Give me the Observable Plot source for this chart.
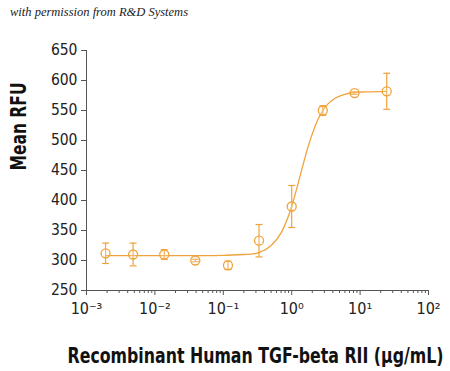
<!DOCTYPE html>
<html>
<head>
<meta charset="utf-8">
<script src="https://cdn.jsdelivr.net/npm/d3@7"></script>
<script src="https://cdn.jsdelivr.net/npm/@observablehq/plot@0.6"></script>
<style>
  html, body { margin: 0; padding: 0; background: #fff; }
  #wrap { position: relative; width: 450px; height: 371px; }
  #credit { position: absolute; left: 10px; top: 5px; font-family: "Liberation Serif", "DejaVu Serif", serif; font-style: italic; font-size: 12.5px; color: #222; }
  svg { display: block; }
</style>
</head>
<body>
<div id="wrap">
  <div id="credit">with permission from R&amp;D Systems</div>
  <div id="chart"></div>
</div>
<script>
// Data
const concentration = [0.0019, 0.0048, 0.0137, 0.039, 0.117, 0.333, 1.0, 2.85, 8.3, 24.5];
const meanRFU      = [312, 310, 310, 300, 292, 333, 390, 550, 579, 582];
const errorRFU     = [17, 19, 8, 2, 7, 27, 35, 8, 2, 30];

// Fitted curve
const curveX = [0.0019, 0.01, 0.05, 0.1, 0.2, 0.25, 0.333, 0.5, 0.7, 1.0, 1.2, 1.4, 1.7, 2.0, 2.4, 2.85, 3.4, 4, 6, 8.3, 12, 24.5];
const curveY = [308, 308, 308, 308.5, 310, 310.6, 313, 325, 346, 390, 422, 451, 486, 511, 534, 550, 561, 568, 577, 580, 581, 582];

const majorTicks = [0.001, 0.01, 0.1, 1, 10, 100];
const majorLabels = ["10⁻³", "10⁻²", "10⁻¹", "10⁰", "10¹", "10²"];
const yTicks = [250, 300, 350, 400, 450, 500, 550, 600, 650];
const xTitle = "Recombinant Human TGF-beta RII (μg/mL)";
const yTitle = "Mean RFU";

const points = concentration.map((x, i) => ({x, y: meanRFU[i], lo: meanRFU[i] - errorRFU[i], hi: meanRFU[i] + errorRFU[i]}));
const curve = curveX.map((x, i) => ({x, y: curveY[i]}));
const minorTicks = [];
for (let e = -3; e < 2; e++) for (let m = 2; m <= 9; m++) minorTicks.push(m * Math.pow(10, e));

const orange = "#F0A33C";
const axisColor = "#555";
const font = '"Liberation Sans Narrow", "DejaVu Sans Condensed", sans-serif';

const capSymbol = { draw(ctx) { ctx.moveTo(-3.5, 0); ctx.lineTo(3.5, 0); } };

const chart = Plot.plot({
  width: 450,
  height: 371,
  marginLeft: 86,
  marginRight: 22,
  marginTop: 50,
  marginBottom: 81,
  style: { fontFamily: font, fontSize: "15px", color: "#222", background: "transparent" },
  x: { type: "log", domain: [0.001, 100] },
  y: { domain: [250, 650] },
  marks: [
    Plot.ruleX([0.001], { stroke: axisColor, strokeWidth: 1 }),
    Plot.ruleY([250], { stroke: axisColor, strokeWidth: 1 }),
    Plot.axisY({ ticks: yTicks, tickSize: 5, tickPadding: 4, stroke: axisColor, fontSize: 15.5, label: null }),
    Plot.axisX({ ticks: majorTicks, tickSize: 5, tickPadding: 7, stroke: axisColor, fontSize: 16,
      tickFormat: (d) => majorLabels[majorTicks.indexOf(d)], label: null }),
    Plot.axisX({ ticks: minorTicks, tickSize: 3, stroke: axisColor, tickFormat: () => "", label: null }),
    Plot.text([yTitle], { frameAnchor: "left", dx: -68, rotate: -90, fontSize: 22, fontWeight: "bold", fill: "#111" }),
    Plot.text([xTitle], { frameAnchor: "bottom", dy: 72, dx: -2, fontSize: 21, fontWeight: "bold", fill: "#111" }),
    Plot.line(curve, { x: "x", y: "y", stroke: orange, strokeWidth: 1.3, curve: "monotone-x" }),
    Plot.ruleX(points, { x: "x", y1: "lo", y2: "hi", stroke: orange, strokeWidth: 1.2 }),
    Plot.dot(points, { x: "x", y: "lo", symbol: capSymbol, stroke: orange, strokeWidth: 1.2, fill: "none" }),
    Plot.dot(points, { x: "x", y: "hi", symbol: capSymbol, stroke: orange, strokeWidth: 1.2, fill: "none" }),
    Plot.dot(points, { x: "x", y: "y", r: 4.5, stroke: orange, strokeWidth: 1.3, fill: "white", fillOpacity: 0.2 })
  ]
});
document.getElementById("chart").appendChild(chart);
// condense titles horizontally to the reference's widths
chart.querySelectorAll("text").forEach(t => {
  let target = null;
  if (t.textContent === xTitle) target = 376;
  if (t.textContent === yTitle) target = 88;
  if (target) {
    const w = t.getComputedTextLength();
    const s = Math.min(1, target / w);
    const tr = t.getAttribute("transform") || "";
    t.setAttribute("transform", tr + ` scale(${s.toFixed(3)},1)`);
  }
});
</script>
</body>
</html>
